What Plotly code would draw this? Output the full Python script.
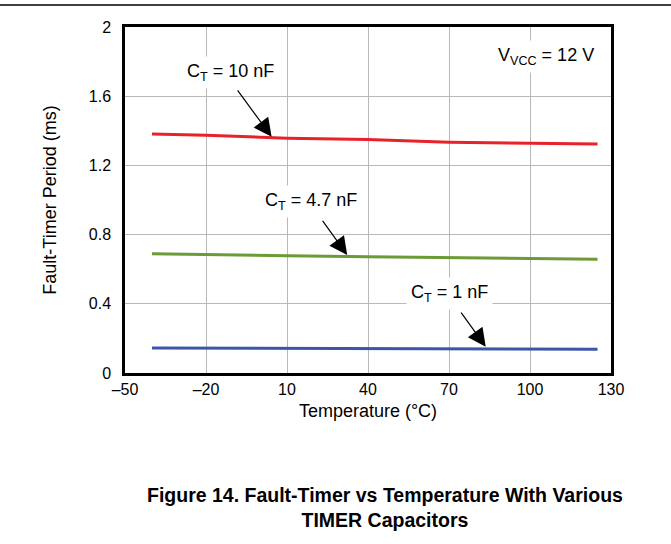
import plotly.graph_objects as go

temperature = [-40, -20, 10, 40, 70, 100, 125]
period_10nF = [1.381, 1.374, 1.357, 1.349, 1.334, 1.327, 1.324]
period_4p7nF = [0.690, 0.684, 0.678, 0.672, 0.666, 0.662, 0.658]
period_1nF = [0.145, 0.144, 0.143, 0.141, 0.140, 0.139, 0.138]

x_ticks = [-50, -20, 10, 40, 70, 100, 130]
x_tick_text = ["\u201350", "\u201320", "10", "40", "70", "100", "130"]
y_ticks = [0, 0.4, 0.8, 1.2, 1.6, 2]
y_tick_text = ["0", "0.4", "0.8", "1.2", "1.6", "2"]

labels = ["C<sub>T</sub> = 10 nF", "C<sub>T</sub> = 4.7 nF", "C<sub>T</sub> = 1 nF"]
label_pos = [(-11.1, 1.737), (18.9, 0.99), (70.0, 0.457)]
arrow_tail = [(-8.7, 1.642), (22.8, 0.888), (74.1, 0.358)]
arrow_head = [(4.3, 1.366), (32.3, 0.682), (83.6, 0.152)]

FONT = "Liberation Sans, Arial, sans-serif"

fig = go.Figure()
for vals, col in [(period_10nF, "#e8212b"), (period_4p7nF, "#6c9a37"), (period_1nF, "#3b56a6")]:
    fig.add_trace(go.Scatter(x=temperature, y=vals, mode="lines",
                             line=dict(color=col, width=3), showlegend=False,
                             hoverinfo="skip"))

for txt, (lx, ly) in zip(labels, label_pos):
    fig.add_annotation(x=lx, y=ly, xref="x", yref="y", text=txt, showarrow=False,
                       font=dict(family=FONT, size=18, color="black"),
                       bgcolor="white", borderpad=4)

for (tx, ty), (hx, hy) in zip(arrow_tail, arrow_head):
    fig.add_annotation(x=hx, y=hy, ax=tx, ay=ty, xref="x", yref="y", axref="x", ayref="y",
                       text="", showarrow=True, arrowhead=2, arrowsize=3,
                       arrowwidth=1.2, arrowcolor="black", standoff=0)

fig.add_annotation(x=125.7, y=1.832, xref="x", yref="y", xanchor="right",
                   text="V<sub>VCC</sub> = 12 V", showarrow=False,
                   font=dict(family=FONT, size=18, color="black"),
                   bgcolor="white", borderpad=4)

fig.add_annotation(x=0.535, y=-0.389, xref="paper", yref="paper",
                   text="<b>Figure 14. Fault-Timer vs Temperature With Various<br>TIMER Capacitors</b>",
                   showarrow=False, font=dict(family=FONT, size=19.5, color="black"),
                   yanchor="middle")

fig.add_shape(type="line", xref="paper", yref="paper", x0=-0.26, x1=1.13,
              y0=1.0636, y1=1.0636, line=dict(color="black", width=1.5))

fig.update_xaxes(range=[-50, 130], tickvals=x_ticks, ticktext=x_tick_text,
                 showgrid=True, gridcolor="#b8b8b8", gridwidth=1,
                 showline=True, mirror=True, linecolor="black", linewidth=2.5,
                 ticks="",
                 tickfont=dict(family=FONT, size=16, color="black"),
                 title=dict(text="Temperature (\u00b0C)", standoff=8,
                            font=dict(family=FONT, size=18, color="black")),
                 zeroline=False)
fig.update_yaxes(range=[0, 2], tickvals=y_ticks, ticktext=y_tick_text,
                 showgrid=True, gridcolor="#b8b8b8", gridwidth=1,
                 showline=True, mirror=True, linecolor="black", linewidth=2.5,
                 ticks="outside", ticklen=8, tickcolor="rgba(0,0,0,0)",
                 tickfont=dict(family=FONT, size=16, color="black"),
                 title=dict(text="Fault-Timer Period (ms)", standoff=28,
                            font=dict(family=FONT, size=18, color="black")),
                 zeroline=False)

fig.update_layout(width=671, height=544, paper_bgcolor="white", plot_bgcolor="white",
                  margin=dict(l=125, r=60, t=27, b=171, autoexpand=False),
                  font=dict(family=FONT, color="black"))

fig.write_html("out.html", config={"displayModeBar": False},
               post_script="document.body.style.margin='0';")
